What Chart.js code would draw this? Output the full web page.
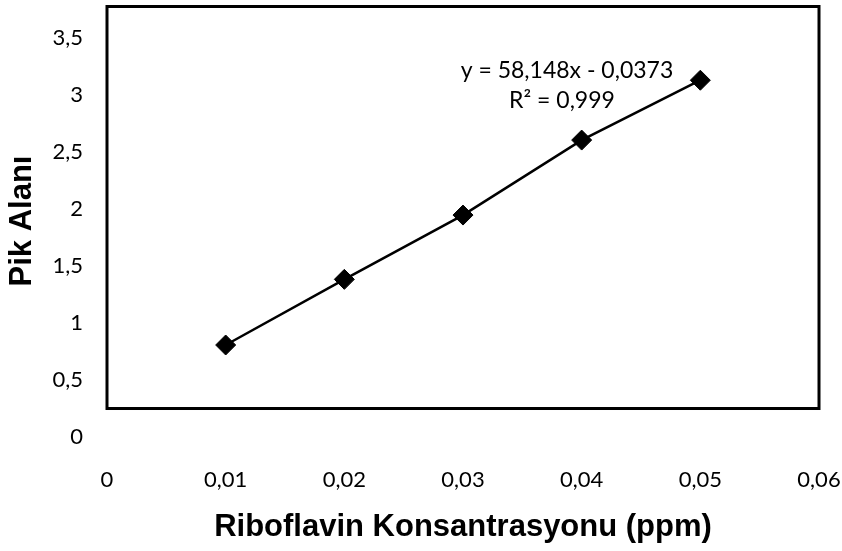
<!DOCTYPE html>
<html>
<head>
<meta charset="utf-8">
<script src="https://cdn.jsdelivr.net/npm/chart.js@4.4.1/dist/chart.umd.min.js"></script>
<style>
  html, body { margin: 0; padding: 0; background: #fff; }
  #wrap { width: 842px; height: 551px; }
</style>
</head>
<body>
<div id="wrap"><canvas id="myChart" width="842" height="551"></canvas></div>
<script>
// konsantrasyon (ppm) ve pik alanı değerleri
const konsantrasyon = [0.01, 0.02, 0.03, 0.04, 0.05];
const pikAlani = [0.807, 1.383, 1.947, 2.605, 3.13];
const yTicks = [0, 0.5, 1, 1.5, 2, 2.5, 3, 3.5];
const xTicks = [0, 0.01, 0.02, 0.03, 0.04, 0.05, 0.06];
const denklem = ['y = 58,148x - 0,0373', 'R² = 0,999'];

const tickFont = { family: 'Lato', size: 22 };
const titleFont = { family: 'Liberation Sans', size: 31, weight: 'bold' };

const fmt = v => String(v).replace('.', ',');

// çerçeve + denklem metni
const cerceve = {
  id: 'cerceve',
  afterDraw(chart) {
    const { ctx, chartArea, scales } = chart;
    const l = scales.x.getPixelForValue(0);
    const r = scales.x.getPixelForValue(0.06);
    const b = scales.y.getPixelForValue(0.25);
    ctx.save();
    ctx.strokeStyle = '#000';
    ctx.lineWidth = 3;
    ctx.strokeRect(l, chartArea.top + 1.5, r - l, b - chartArea.top - 1.5);

    ctx.fillStyle = '#000';
    ctx.font = '23px Lato';
    ctx.textAlign = 'center';
    ctx.textBaseline = 'middle';
    ctx.fillText(denklem[0], 567, 71);
    ctx.fillText(denklem[1], 562, 101);
    ctx.restore();
  }
};

const ctx = document.getElementById('myChart').getContext('2d');
new Chart(ctx, {
  type: 'scatter',
  data: {
    datasets: [{
      data: konsantrasyon.map((x, i) => ({ x, y: pikAlani[i] })),
      showLine: true,
      borderColor: '#000',
      borderWidth: 2.5,
      backgroundColor: '#000',
      pointStyle: 'rectRot',
      pointRadius: 10,
      pointBorderWidth: 1,
      pointHoverRadius: 10,
      clip: false
    }]
  },
  options: {
    responsive: false,
    animation: false,
    layout: { autoPadding: false, padding: { top: 5, right: 23, left: 0, bottom: 0 } },
    plugins: {
      legend: { display: false },
      tooltip: { enabled: false }
    },
    scales: {
      x: {
        type: 'linear',
        min: 0,
        max: 0.06,
        afterBuildTicks: s => { s.ticks = xTicks.map(v => ({ value: v })); },
        afterFit: s => { s.height = 114; s.paddingLeft = 0; s.paddingRight = 0; },
        grid: { display: false, drawTicks: false },
        border: { display: false },
        ticks: { font: tickFont, color: '#000', padding: 30, maxRotation: 0, callback: v => fmt(v) },
        title: {
          display: true,
          text: 'Riboflavin Konsantrasyonu (ppm)',
          font: titleFont,
          color: '#000',
          padding: { top: 0, bottom: 5 }
        }
      },
      y: {
        type: 'linear',
        min: 0,
        max: 3.79,
        afterBuildTicks: s => { s.ticks = yTicks.map(v => ({ value: v })); },
        afterFit: s => { s.width = 107; s.paddingTop = 0; s.paddingBottom = 0; },
        grid: { display: false, drawTicks: false },
        border: { display: false },
        ticks: { font: tickFont, color: '#000', padding: 24, callback: v => fmt(v) },
        title: {
          display: true,
          text: 'Pik Alanı',
          font: titleFont,
          color: '#000',
          padding: { top: 4, bottom: 0 }
        }
      }
    }
  },
  plugins: [cerceve]
});
</script>
</body>
</html>
